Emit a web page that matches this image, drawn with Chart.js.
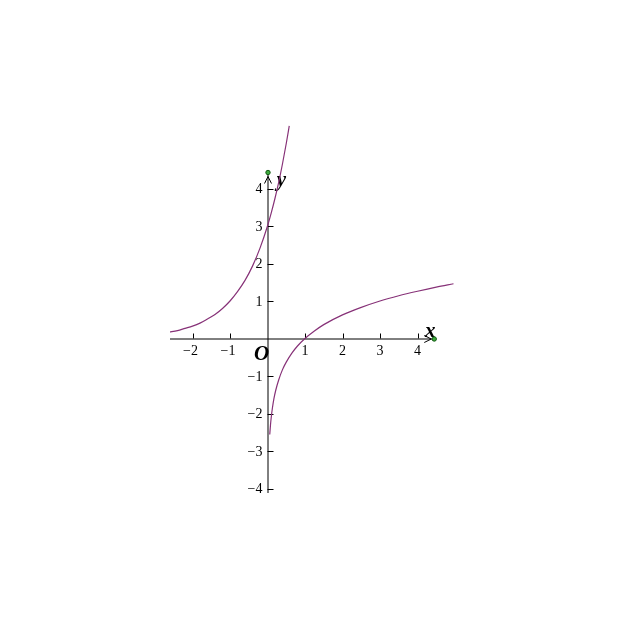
<!DOCTYPE html>
<html>
<head>
<meta charset="utf-8">
<script src="https://cdn.jsdelivr.net/npm/chart.js@4/dist/chart.umd.min.js"></script>
<style>
  body { margin: 0; background: #fff; }
  canvas { display: block; }
</style>
</head>
<body>
<canvas id="bieuDo" width="624" height="624"></canvas>
<script>
// curve: rising branch crossing the y axis at 3
const expX = [-2.63, -2.4, -2.2, -2.0, -1.8, -1.6, -1.4, -1.2, -1.0, -0.8, -0.6, -0.4, -0.2, 0, 0.1, 0.2, 0.3, 0.4, 0.5, 0.58];
const expY = [0.17, 0.21, 0.27, 0.33, 0.41, 0.52, 0.64, 0.80, 1.0, 1.25, 1.55, 1.93, 2.41, 3.0, 3.35, 3.74, 4.17, 4.66, 5.2, 5.67];

// curve: log-like branch through (1, 0)
const logX = [0.06, 0.08, 0.1, 0.13, 0.17, 0.22, 0.3, 0.4, 0.5, 0.65, 0.8, 1.0, 1.25, 1.5, 2.0, 2.5, 3.0, 3.5, 4.0, 4.5, 4.96];
const logY = [-2.56, -2.3, -2.1, -1.86, -1.61, -1.38, -1.1, -0.83, -0.63, -0.39, -0.2, 0, 0.2, 0.37, 0.63, 0.83, 1.0, 1.14, 1.26, 1.37, 1.46];

const xTicks = [-2, -1, 1, 2, 3, 4];
const yTicks = [-4, -3, -2, -1, 1, 2, 3, 4];
const xAxisRange = [-2.6, 4.42];
const yAxisRange = [-4.12, 4.4];

const curveColor = 'rgb(135, 50, 120)';

function toPoints(xs, ys) {
    let pts = [];
    for (let i = 0; i < xs.length; i++)
        pts.push({x: xs[i], y: ys[i]});
    return pts;
}

function nhan(v) {
    return v < 0 ? '\u2212' + Math.abs(v) : String(v);
}

const trucToaDo = {
    id: 'trucToaDo',
    beforeDatasetsDraw(chart) {
        const ctx = chart.ctx;
        const sx = chart.scales.x, sy = chart.scales.y;
        const ox = sx.getPixelForValue(0), oy = sy.getPixelForValue(0);
        const x0 = sx.getPixelForValue(xAxisRange[0]), x1 = sx.getPixelForValue(xAxisRange[1]);
        const y0 = sy.getPixelForValue(yAxisRange[0]), y1 = sy.getPixelForValue(yAxisRange[1]);

        ctx.save();
        ctx.strokeStyle = '#000';
        ctx.lineWidth = 1;
        ctx.beginPath();
        ctx.moveTo(x0, oy + 0.5); ctx.lineTo(x1, oy + 0.5);
        ctx.moveTo(ox + 0.5, y0); ctx.lineTo(ox + 0.5, y1);
        ctx.stroke();

        // arrows
        ctx.beginPath();
        ctx.moveTo(x1 - 9, oy - 3); ctx.lineTo(x1 - 2, oy + 0.5); ctx.lineTo(x1 - 9, oy + 4);
        ctx.moveTo(ox - 3, y1 + 10); ctx.lineTo(ox + 0.5, y1 + 3); ctx.lineTo(ox + 4, y1 + 10);
        ctx.stroke();

        // ticks
        ctx.beginPath();
        xTicks.forEach(v => {
            const px = Math.round(sx.getPixelForValue(v)) + 0.5;
            ctx.moveTo(px, oy); ctx.lineTo(px, oy - 5);
        });
        yTicks.forEach(v => {
            const py = Math.round(sy.getPixelForValue(v)) + 0.5;
            ctx.moveTo(ox, py); ctx.lineTo(ox + 6, py);
        });
        ctx.stroke();

        ctx.fillStyle = '#000';
        ctx.font = '14px "Liberation Serif", serif';
        ctx.textAlign = 'center';
        ctx.textBaseline = 'middle';
        xTicks.forEach(v => {
            ctx.fillText(nhan(v), sx.getPixelForValue(v) - (v < 0 ? 2 : 0), oy + 13);
        });
        ctx.textAlign = 'right';
        yTicks.forEach(v => {
            ctx.fillText(nhan(v), ox - 5, sy.getPixelForValue(v) + 1);
        });

        ctx.font = 'italic bold 21px "Liberation Serif", serif';
        ctx.textAlign = 'center';
        ctx.fillText('x', x1 - 3, oy - 7);
        ctx.fillText('y', ox + 14, y1 + 7);
        ctx.fillText('O', ox - 6, oy + 16);

        // green end points
        ctx.fillStyle = 'rgb(60, 170, 60)';
        ctx.strokeStyle = 'rgb(20, 90, 20)';
        ctx.beginPath();
        ctx.arc(x1 + 1, oy + 0.5, 2.2, 0, Math.PI * 2);
        ctx.fill(); ctx.stroke();
        ctx.beginPath();
        ctx.arc(ox + 0.5, y1 - 1, 2.2, 0, Math.PI * 2);
        ctx.fill(); ctx.stroke();
        ctx.restore();
    }
};

function veDoThi(id) {
    const data = {
        datasets: [{
                data: toPoints(expX, expY),
                borderColor: curveColor,
                borderWidth: 1.2,
                pointRadius: 0,
                showLine: true,
                cubicInterpolationMode: 'monotone'
            }, {
                data: toPoints(logX, logY),
                borderColor: curveColor,
                borderWidth: 1.2,
                pointRadius: 0,
                showLine: true,
                cubicInterpolationMode: 'monotone'
            }]
    };

    const config = {
        type: 'scatter',
        data: data,
        options: {
            responsive: false,
            animation: false,
            devicePixelRatio: 1,
            layout: { padding: { left: 170, right: 169, top: 124.75, bottom: 116.75 } },
            plugins: { legend: { display: false }, tooltip: { enabled: false } },
            scales: {
                x: { type: 'linear', min: -2.6, max: 5.0, display: false },
                y: { type: 'linear', min: -4.5, max: 5.7, display: false }
            }
        },
        plugins: [trucToaDo]
    };

    new Chart(document.getElementById(id).getContext('2d'), config);
}

veDoThi('bieuDo');
</script>
</body>
</html>
